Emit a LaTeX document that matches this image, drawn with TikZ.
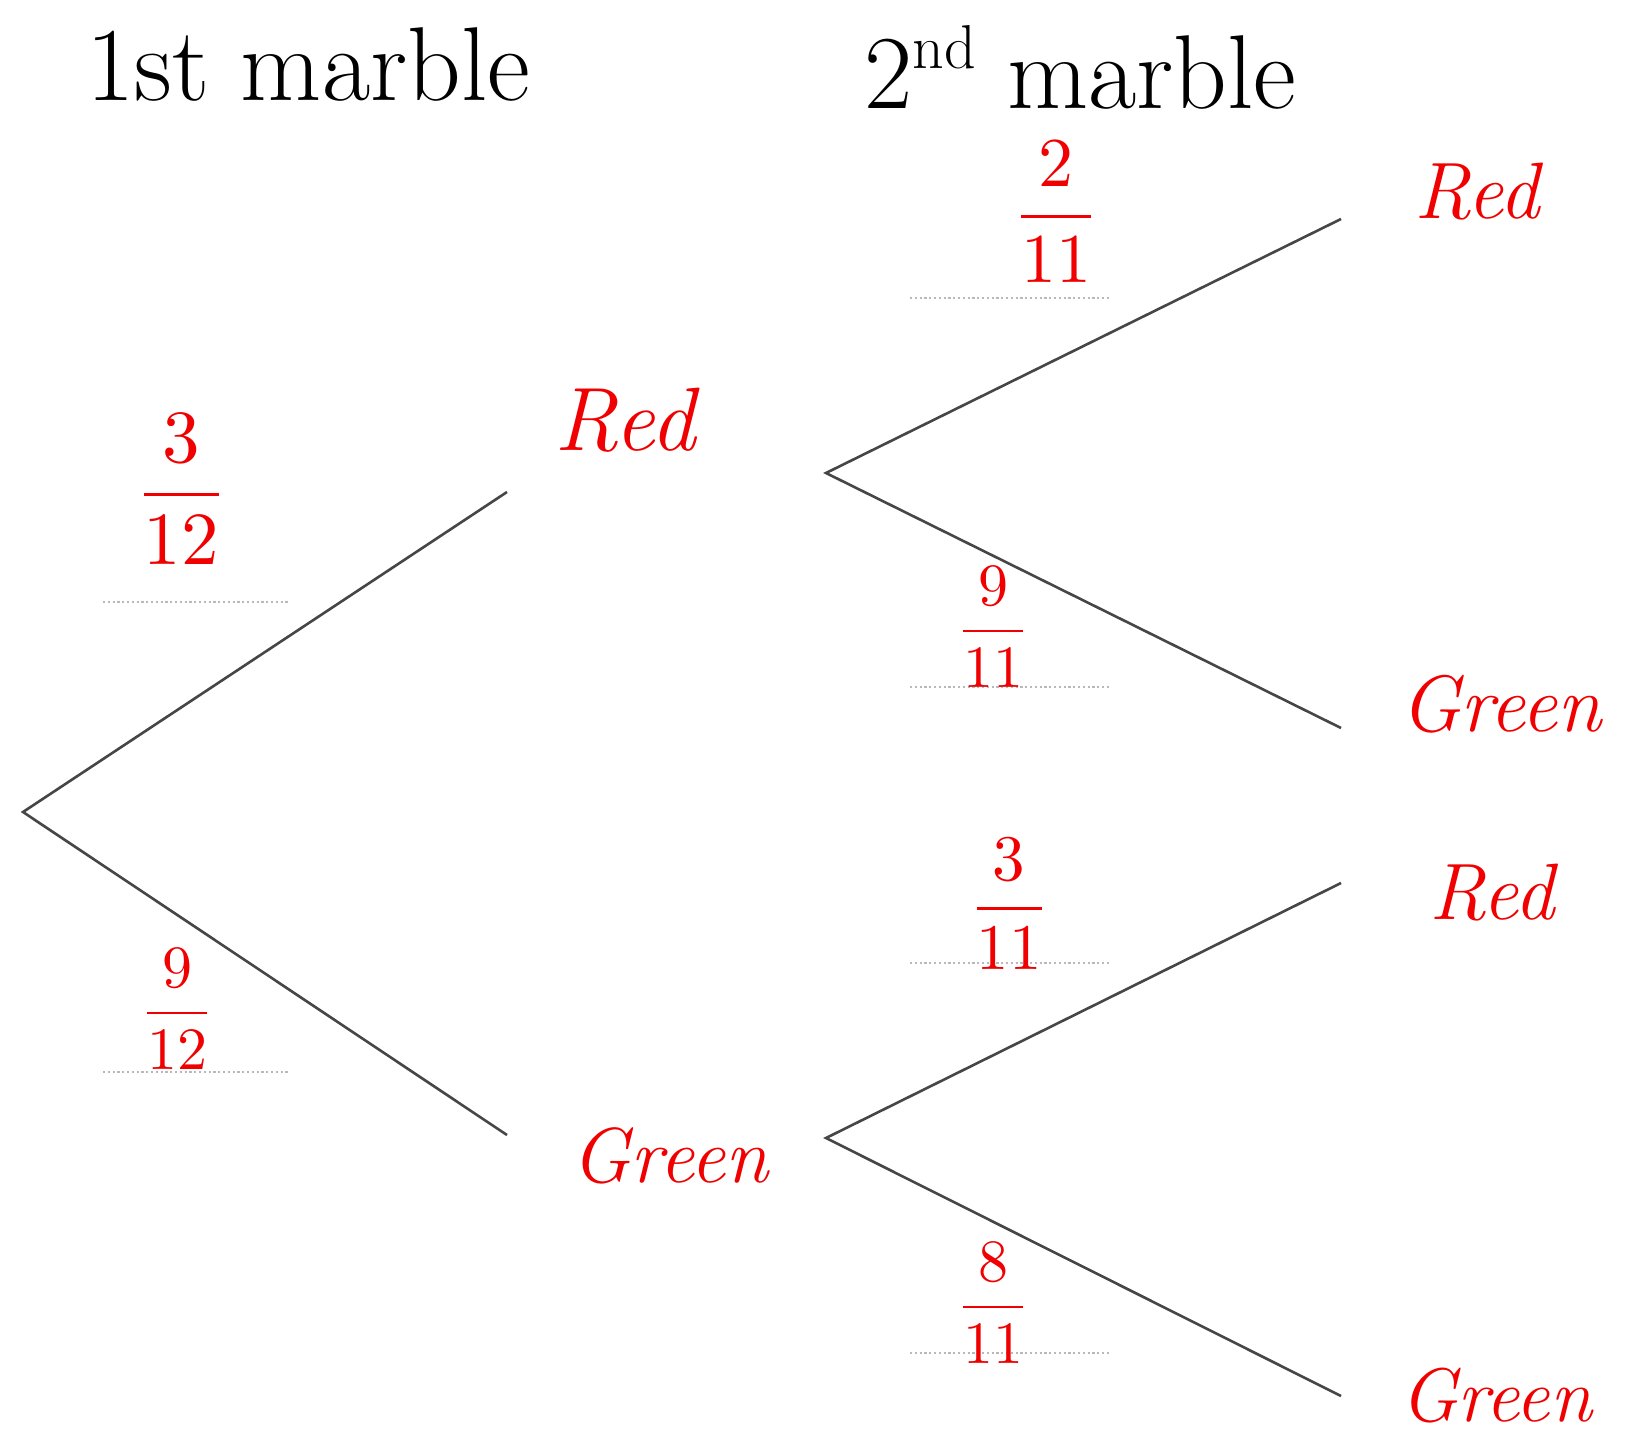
\documentclass[tikz,border=0pt]{standalone}
\usepackage{amsmath}
\usepackage{graphicx}
\definecolor{ink}{RGB}{240,0,0}
\definecolor{branch}{RGB}{70,70,70}
\newcommand{\bigfrac}[3]{\scalebox{#3}{$\dfrac{#1}{#2}$}}
\begin{document}
\begin{tikzpicture}[x=1pt,y=-1pt,
  branchline/.style={draw=branch,line width=2.6pt},
  dotline/.style={draw=gray!55,line width=2.2pt,dash pattern=on 2.2pt off 2.6pt},
  hand/.style={text=ink,font=\fontsize{90}{100}\selectfont\itshape,inner sep=0pt},
  frac/.style={text=ink,inner sep=0pt},
  header/.style={text=black,font=\fontsize{105}{120}\selectfont,inner sep=0pt,anchor=base west}]
\useasboundingbox[fill=white] (0,0) rectangle (1648,1438);
% headers
\node[header] (h1) at (86,100) {1st marble};
\node[header] (h2) at (864,108) {2\raisebox{0.38em}{\fontsize{62}{64}\selectfont nd} marble};
% tree points
\coordinate (root) at (23,812);
\coordinate (r1) at (507,492);
\coordinate (g1) at (507,1135);
\coordinate (rs) at (826,473);
\coordinate (gs) at (826,1138);
\coordinate (rr) at (1341,219);
\coordinate (rg) at (1341,728);
\coordinate (gr) at (1341,883);
\coordinate (gg) at (1341,1396);
\draw[branchline] (r1) -- (root) -- (g1);
\draw[branchline] (rr) -- (rs) -- (rg);
\draw[branchline] (gr) -- (gs) -- (gg);
% dotted answer lines
\coordinate (d1a) at (103,602); \coordinate (d1b) at (289,602);
\coordinate (d2a) at (103,1072); \coordinate (d2b) at (289,1072);
\coordinate (d3a) at (910,298); \coordinate (d3b) at (1109,298);
\coordinate (d4a) at (910,687); \coordinate (d4b) at (1109,687);
\coordinate (d5a) at (910,963); \coordinate (d5b) at (1109,963);
\coordinate (d6a) at (910,1353); \coordinate (d6b) at (1109,1353);
\draw[dotline] (d1a) -- (d1b);
\draw[dotline] (d2a) -- (d2b);
\draw[dotline] (d3a) -- (d3b);
\draw[dotline] (d4a) -- (d4b);
\draw[dotline] (d5a) -- (d5b);
\draw[dotline] (d6a) -- (d6b);
% probabilities
\node[frac] (p1) at (181,489) {\bigfrac{3}{12}{7.5}};
\node[frac] (p2) at (177,1009) {\bigfrac{9}{12}{6}};
\node[frac] (p3) at (1056,212) {\bigfrac{2}{11}{7}};
\node[frac] (p4) at (993,627) {\bigfrac{9}{11}{6}};
\node[frac] (p5) at (1009,904) {\bigfrac{3}{11}{6.5}};
\node[frac] (p6) at (993,1303) {\bigfrac{8}{11}{6}};
% outcomes
\node[hand] (n1) at (625,420) {Red};
\node[hand,font=\fontsize{78}{90}\selectfont\itshape] (n2) at (670,1156) {Green};
\node[hand,font=\fontsize{80}{90}\selectfont\itshape] (n3) at (1477,192) {Red};
\node[hand,font=\fontsize{80}{90}\selectfont\itshape,anchor=west] (n4) at (1400,704) {Green};
\node[hand,font=\fontsize{80}{90}\selectfont\itshape] (n5) at (1492,893) {Red};
\node[hand,font=\fontsize{76}{90}\selectfont\itshape,anchor=west] (n6) at (1400,1396) {Green};
\end{tikzpicture}
\end{document}
